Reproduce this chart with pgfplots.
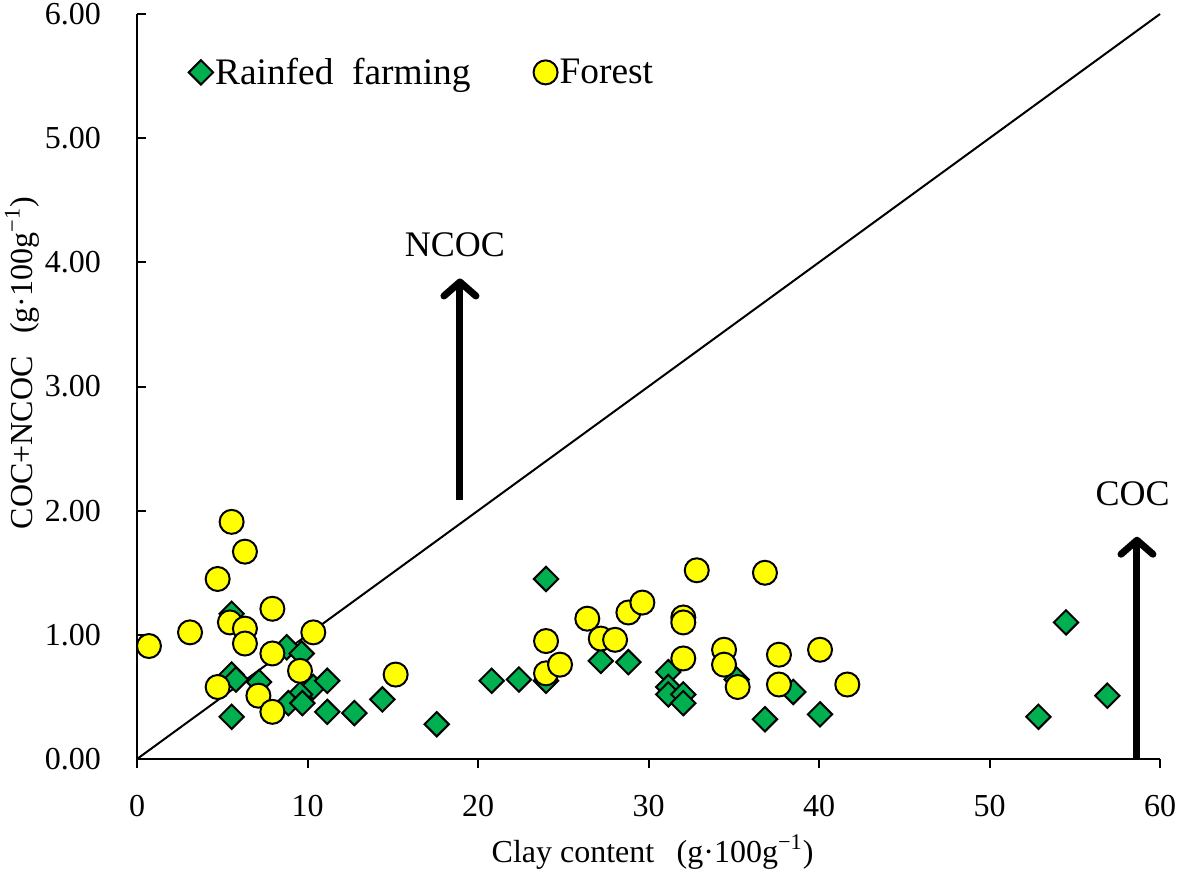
\documentclass[border=0pt]{standalone}
\usepackage{pgfplots}
\pgfplotsset{compat=1.18}
\usepackage{fontspec}
\setmainfont{Liberation Serif}
\usetikzlibrary{arrows.meta}
\definecolor{rfgreen}{HTML}{00B050}
\definecolor{fyellow}{HTML}{FFFF00}
\begin{document}
\begin{tikzpicture}
\begin{axis}[
  at={(68.5pt,55pt)}, anchor=south west,
  scale only axis, width=511.5pt, height=372.5pt,
  xmin=0, xmax=60, ymin=0, ymax=6,
  axis lines=left,
  axis line style={line width=1pt, -},
  xtick={0,10,...,60}, ytick={0,1,...,6},
  tick align=outside,
  major tick length=4.5pt,
  tick style={line width=1pt, black},
  ytick style={xshift=4.5pt},
  minor tick num=0,
  clip=false,
  /pgf/number format/assume math mode=true,
  yticklabel={\pgfmathprintnumber[fixed,fixed zerofill,precision=2]{\tick}},
  ticklabel style={font=\fontsize{16}{19}\selectfont},
  y tick label style={xshift=-10pt},
  x tick label style={yshift=-10pt},
  xlabel={Clay content\hspace{0.7em}(g·100g\textsuperscript{−1})},
  ylabel={COC+NCOC\hspace{0.7em}(g·100g\textsuperscript{−1})},
  label style={font=\fontsize{16}{19}\selectfont},
  xlabel style={at={(axis description cs:0.504,-0.125)}, anchor=center},
  ylabel style={at={(axis description cs:-0.1124,0.5315)}, anchor=center, rotate=0},
  legend columns=2,
  legend style={draw=none, fill=none, at={(axis cs:2.66,5.53)}, anchor=west,
    font=\fontsize{18.7}{22}\selectfont,
    /tikz/every even column/.append style={column sep=30.5pt},
    nodes={inner xsep=1pt}},
  legend image code/.code={\draw[#1] plot coordinates {(6pt,0pt)};},
]
\addplot[only marks, mark=square*, mark size=4.3pt,
  mark options={rotate=45, fill=rfgreen, draw=black, line width=1pt}]
coordinates {
(5.55,1.17) (8.78,0.90) (9.66,0.85) (5.55,0.68) (5.8,0.64) (7.16,0.62)
(10.34,0.58) (11.16,0.63) (9.56,0.52) (8.88,0.45) (9.7,0.45) (5.55,0.34)
(11.16,0.38) (12.75,0.37) (14.39,0.48) (17.58,0.28) (20.80,0.63) (22.40,0.64)
(23.99,1.45) (23.99,0.63) (27.2,0.79) (28.82,0.78) (31.16,0.70) (31.16,0.58)
(31.16,0.52) (32.04,0.52) (32.04,0.45) (35.17,0.64) (38.49,0.54) (36.83,0.32)
(40.06,0.36) (52.87,0.34) (54.49,1.10) (56.91,0.51)
};
\addlegendentry{Rainfed\hspace{0.5em}farming}
\addplot[only marks, mark=*, mark size=6pt,
  mark options={fill=fyellow, draw=black, line width=1pt}]
coordinates {
(0.70,0.91) (3.11,1.02) (4.73,1.45) (4.73,0.58) (5.55,1.91) (5.45,1.10)
(6.33,1.67) (6.33,1.05) (6.33,0.93) (7.12,0.51) (7.94,1.21) (7.94,0.85)
(7.94,0.38) (9.56,0.71) (10.34,1.02) (15.17,0.68) (23.99,0.95) (23.99,0.69)
(24.81,0.76) (26.41,1.13) (27.2,0.97) (28.04,0.96) (28.82,1.18) (29.64,1.26)
(32.83,1.52) (32.04,1.14) (32.04,1.10) (32.04,0.81) (34.43,0.88) (34.43,0.76)
(35.23,0.58) (36.83,1.50) (37.65,0.84) (37.65,0.60) (40.06,0.88) (41.66,0.60)
};
\addlegendentry{Forest}
\addplot[black, line width=1pt, forget plot] coordinates {(0,0) (60,6)};
\draw[line width=3.5pt, -{Straight Barb[length=7pt,width=16pt,round]}]
  (axis cs:18.94,2.09) -- (axis cs:18.94,3.87);
\draw[line width=3.5pt, -{Straight Barb[length=7pt,width=16pt,round]}]
  (axis cs:58.65,0) -- (axis cs:58.65,1.79);
\node[font=\fontsize{18}{21}\selectfont] at (axis cs:18.65,4.14) {NCOC};
\node[font=\fontsize{18}{21}\selectfont] at (axis cs:58.4,2.14) {COC};
\end{axis}
\pgfresetboundingbox
\useasboundingbox (0,0) rectangle (590.5pt,434.5pt);
\end{tikzpicture}
\end{document}
